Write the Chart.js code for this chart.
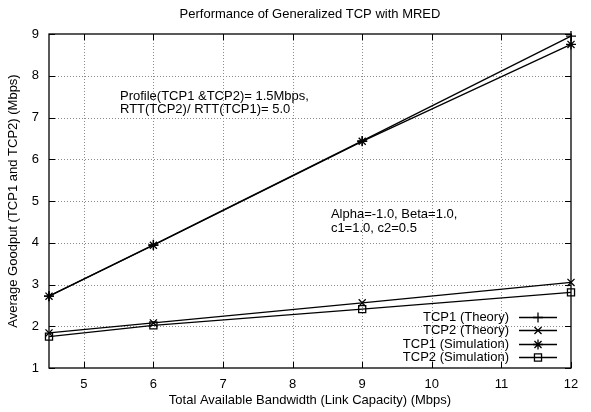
<!DOCTYPE html>
<html><head><meta charset="utf-8">
<script src="https://cdn.jsdelivr.net/npm/chart.js@4/dist/chart.umd.min.js"></script>
<style>html,body{margin:0;padding:0;background:#fff}#wrap{width:591px;height:412px}</style>
</head><body><div id="wrap"><canvas id="c" width="591" height="412"></canvas></div>
<script>
const bandwidth = [4.5, 6, 9, 12];
const tcp1Theory = [2.72, 3.95, 6.44, 8.95];
const tcp2Theory = [1.84, 2.08, 2.56, 3.05];
const tcp1Sim = [2.72, 3.94, 6.43, 8.75];
const tcp2Sim = [1.75, 2.02, 2.41, 2.81];
const seriesNames = ['TCP1 (Theory)', 'TCP2 (Theory)', 'TCP1 (Simulation)', 'TCP2 (Simulation)'];
const markerStyles = ['cross', 'crossRot', 'star', 'rect'];
const xTicks = [5, 6, 7, 8, 9, 10, 11, 12];
const yTicks = [1, 2, 3, 4, 5, 6, 7, 8, 9];
const titleText = 'Performance of Generalized TCP with MRED';
const xTitle = 'Total Available Bandwidth (Link Capacity) (Mbps)';
const yTitle = 'Average Goodput (TCP1 and TCP2) (Mbps)';
const notes = [
  {x: 5.52, y: 7.43, lines: ['Profile(TCP1 &TCP2)= 1.5Mbps,', 'RTT(TCP2)/ RTT(TCP1)= 5.0']},
  {x: 8.55, y: 4.6, lines: ['Alpha=-1.0, Beta=1.0,', 'c1=1.0, c2=0.5']}
];

const FONT = 'Liberation Sans, Arial, Helvetica, sans-serif';
const allSeries = [tcp1Theory, tcp2Theory, tcp1Sim, tcp2Sim];
const datasets = allSeries.map((vals, i) => ({
  label: seriesNames[i],
  data: bandwidth.map((x, j) => ({x: x, y: vals[j]})),
  borderColor: '#000', backgroundColor: 'rgba(0,0,0,0)',
  borderWidth: 1.3, pointStyle: markerStyles[i], pointRadius: 5,
  pointBorderColor: '#000', pointBackgroundColor: 'rgba(0,0,0,0)',
  pointBorderWidth: 1.3, pointHoverRadius: 5,
  clip: false, tension: 0
}));

const gnuplotPlugin = {
  id: 'gnuplot',
  beforeDatasetsDraw(chart) {
    const ctx = chart.ctx, a = chart.chartArea;
    const xs = chart.scales.x, ys = chart.scales.y;
    ctx.save();
    ctx.strokeStyle = '#8a8a8a'; ctx.lineWidth = 1; ctx.setLineDash([1, 2]);
    xTicks.forEach(v => {
      if (v === 12) return;
      const px = Math.round(xs.getPixelForValue(v)) + 0.5;
      ctx.beginPath(); ctx.moveTo(px, a.bottom); ctx.lineTo(px, a.top); ctx.stroke();
    });
    yTicks.forEach(v => {
      if (v === 1 || v === 9) return;
      const py = Math.round(ys.getPixelForValue(v)) + 0.5;
      ctx.beginPath(); ctx.moveTo(a.left, py); ctx.lineTo(a.right, py); ctx.stroke();
    });
    ctx.restore();
  },
  afterDraw(chart) {
    const ctx = chart.ctx, a = chart.chartArea;
    const xs = chart.scales.x, ys = chart.scales.y;
    ctx.save();
    ctx.strokeStyle = '#000'; ctx.lineWidth = 1.3;
    ctx.strokeRect(a.left, a.top, a.right - a.left, a.bottom - a.top);
    ctx.lineWidth = 1;
    const tl = 6;
    xTicks.forEach(v => {
      const px = Math.round(xs.getPixelForValue(v)) + 0.5;
      ctx.beginPath(); ctx.moveTo(px, a.bottom); ctx.lineTo(px, a.bottom - tl);
      ctx.moveTo(px, a.top); ctx.lineTo(px, a.top + tl); ctx.stroke();
    });
    yTicks.forEach(v => {
      const py = Math.round(ys.getPixelForValue(v)) + 0.5;
      ctx.beginPath(); ctx.moveTo(a.left, py); ctx.lineTo(a.left + tl, py);
      ctx.moveTo(a.right, py); ctx.lineTo(a.right - tl, py); ctx.stroke();
    });
    ctx.fillStyle = '#000';
    ctx.font = '13px ' + FONT;
    ctx.textAlign = 'center'; ctx.textBaseline = 'middle';
    ctx.fillText(titleText, (a.left + a.right) / 2, 14);
    ctx.textAlign = 'left'; ctx.textBaseline = 'alphabetic';
    notes.forEach((n, ni) => {
      const px = xs.getPixelForValue(n.x), py = ys.getPixelForValue(n.y);
      n.lines.forEach((t, k) => ctx.fillText(t, px, py + k * (ni === 0 ? 13 : 14)));
    });
    const sx1 = a.right - 52, sx2 = a.right - 14;
    const ly0 = a.bottom - 51, lh = 13.3;
    ctx.textAlign = 'right'; ctx.textBaseline = 'middle';
    chart.data.datasets.forEach((ds, i) => {
      const y = Math.round(ly0 + i * lh) + 0.5;
      ctx.fillStyle = '#000';
      ctx.fillText(ds.label, a.right - 62, y);
      ctx.beginPath(); ctx.lineWidth = 1.3; ctx.strokeStyle = '#000';
      ctx.moveTo(sx1, y); ctx.lineTo(sx2, y); ctx.stroke();
      ctx.fillStyle = 'rgba(0,0,0,0)';
      Chart.helpers.drawPoint(ctx, {pointStyle: ds.pointStyle, radius: 5, rotation: 0, borderWidth: 1.3},
        (sx1 + sx2) / 2, y);
    });
    ctx.restore();
  }
};

new Chart(document.getElementById('c'), {
  type: 'line',
  data: {datasets: datasets},
  options: {
    responsive: false, animation: false, devicePixelRatio: 1,
    layout: {padding: {top: 34, right: 20, left: 0, bottom: 0}},
    plugins: {legend: {display: false}, title: {display: false}, tooltip: {enabled: false}},
    scales: {
      x: {
        type: 'linear', min: 4.5, max: 12,
        afterBuildTicks: s => { s.ticks = xTicks.map(v => ({value: v})); },
        afterFit: s => { s.height = 44; },
        grid: {display: false, drawTicks: false, tickLength: 0},
        border: {display: false},
        ticks: {color: '#000', font: {family: FONT, size: 13}, padding: 9, maxRotation: 0},
        title: {display: true, text: xTitle, color: '#000', font: {family: FONT, size: 13}, padding: {top: 0, bottom: 4}}
      },
      y: {
        type: 'linear', min: 1, max: 9,
        afterBuildTicks: s => { s.ticks = yTicks.map(v => ({value: v})); },
        afterFit: s => { s.width = 49; },
        grid: {display: false, drawTicks: false, tickLength: 0},
        border: {display: false},
        ticks: {color: '#000', font: {family: FONT, size: 13}, padding: 10},
        title: {display: true, text: yTitle, color: '#000', font: {family: FONT, size: 13}, padding: {top: 6, bottom: 0}}
      }
    }
  },
  plugins: [gnuplotPlugin]
});
</script></body></html>
